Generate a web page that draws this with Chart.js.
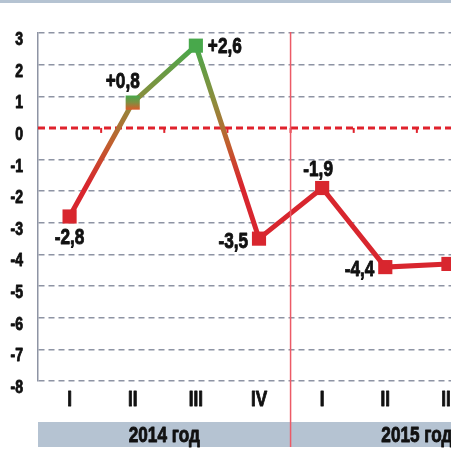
<!DOCTYPE html>
<html>
<head>
<meta charset="utf-8">
<script src="https://cdn.jsdelivr.net/npm/chart.js@4/dist/chart.umd.min.js"></script>
<style>
  html, body { margin: 0; padding: 0; background: #fff; }
  #wrap { width: 451px; height: 459px; overflow: hidden; position: relative; }
  canvas { display: block; }
</style>
</head>
<body>
<div id="wrap"><canvas id="grafico" width="490" height="459"></canvas></div>
<script>
// dados
const quarters = ['I', 'II', 'III', 'IV', 'I', 'II', 'III'];
const years = ['2014 год', '2015 год'];
const yearStart = [0, 4];
const values = [-2.8, 0.8, 2.6, -3.5, -1.9, -4.4, -4.3];
const valueLabels = ['-2,8', '+0,8', '+2,6', '-3,5', '-1,9', '-4,4', ''];
const labelPlace = ['below', 'aboveLeft', 'right', 'left', 'above', 'left', null];

const FONT = '"Liberation Sans", Arial, sans-serif';
const SQUEEZE = 0.78; // fonte condensada
const GREEN = '#48a84b';
const RED = '#d8262e';
const BAND = '#b5c3d2';
const GRID = '#8e94a4';
const INK = '#111';

function texto(ctx, str, x, y, align, size) {
  ctx.save();
  ctx.font = 'bold ' + size + 'px ' + FONT;
  ctx.textAlign = align;
  ctx.textBaseline = 'middle';
  ctx.fillStyle = INK;
  ctx.strokeStyle = INK;
  ctx.lineWidth = 0.9;
  ctx.lineJoin = 'round';
  ctx.translate(x, y);
  ctx.scale(SQUEEZE, 1);
  ctx.fillText(str, 0, 0);
  ctx.strokeText(str, 0, 0);
  ctx.restore();
}

function lineGradient(chart) {
  const y = chart.scales.y;
  if (!y || !chart.chartArea) return RED;
  const top = y.getPixelForValue(2.6), bot = y.getPixelForValue(-1.8);
  const g = chart.ctx.createLinearGradient(0, top, 0, bot);
  g.addColorStop(0, GREEN);
  g.addColorStop((y.getPixelForValue(0.8) - top) / (bot - top), '#8f8c3c');
  g.addColorStop(0.7, '#c0602e');
  g.addColorStop(1, RED);
  return g;
}

const extras = {
  id: 'extras',
  beforeDatasetsDraw(chart) {
    const { ctx, chartArea, scales: { x, y } } = chart;
    const y0 = y.getPixelForValue(0);
    const step = x.getPixelForValue(1) - x.getPixelForValue(0);
    ctx.save();
    // linha zero
    ctx.strokeStyle = '#e0222c';
    ctx.lineWidth = 3;
    ctx.setLineDash([7, 4]);
    ctx.beginPath();
    ctx.moveTo(chartArea.left, y0);
    ctx.lineTo(chartArea.right, y0);
    ctx.stroke();
    ctx.setLineDash([]);
    ctx.lineWidth = 2;
    for (let i = 0; i < quarters.length; i++) {
      const bx = x.getPixelForValue(i) + step / 2;
      ctx.beginPath();
      ctx.moveTo(bx, y0);
      ctx.lineTo(bx, y0 + 5);
      ctx.stroke();
    }
    ctx.restore();
  },
  afterDraw(chart) {
    const { ctx, chartArea, scales: { x, y } } = chart;
    const step = x.getPixelForValue(1) - x.getPixelForValue(0);
    ctx.save();
    // faixa de cima
    ctx.fillStyle = BAND;
    ctx.fillRect(0, 0, chart.width, 3);
    // ticks do eixo y
    y.ticks.forEach((t, i) => {
      texto(ctx, String(t.value), chartArea.left - 15, y.getPixelForTick(i) + 7, 'right', 18);
    });
    // ticks do eixo x
    quarters.forEach((q, i) => {
      texto(ctx, q, x.getPixelForValue(i), chartArea.bottom + 19, 'center', 22);
    });
    // faixa dos anos
    const bandTop = 422, bandH = 25;
    ctx.fillStyle = BAND;
    ctx.fillRect(chartArea.left, bandTop, chartArea.right - chartArea.left + 10, bandH);
    years.forEach((yr, k) => {
      const cx = x.getPixelForValue(yearStart[k]) - step / 2 + step * 2;
      texto(ctx, yr, cx, bandTop + bandH / 2 + 1, 'center', 22);
    });
    // separador vermelho
    const sx = (x.getPixelForValue(3) + x.getPixelForValue(4)) / 2;
    ctx.strokeStyle = '#ec5a66';
    ctx.lineWidth = 1.5;
    ctx.beginPath();
    ctx.moveTo(sx, chartArea.top - 1);
    ctx.lineTo(sx, bandTop + bandH);
    ctx.stroke();
    // rótulos
    values.forEach((v, i) => {
      const p = labelPlace[i];
      if (!p) return;
      const px = x.getPixelForValue(i), py = y.getPixelForValue(v);
      if (p === 'below') texto(ctx, valueLabels[i], px, py + 21, 'center', 22);
      if (p === 'aboveLeft') texto(ctx, valueLabels[i], px + 7, py - 21, 'right', 22);
      if (p === 'right') texto(ctx, valueLabels[i], px + 12, py + 1, 'left', 22);
      if (p === 'left') texto(ctx, valueLabels[i], px - 11, py + 3, 'right', 22);
      if (p === 'above') texto(ctx, valueLabels[i], px - 4, py - 18, 'center', 22);
    });
    ctx.restore();
  }
};

new Chart(document.getElementById('grafico'), {
  type: 'line',
  data: {
    labels: quarters,
    datasets: [{
      data: values,
      borderColor: ctx => lineGradient(ctx.chart),
      borderWidth: 5,
      fill: false,
      tension: 0,
      pointStyle: 'rect',
      pointRadius: 10,
      pointHoverRadius: 10,
      pointBorderWidth: 0,
      pointBackgroundColor: ctx => {
        const chart = ctx.chart;
        if (!chart.chartArea || ctx.dataIndex === undefined) return RED;
        const v = values[ctx.dataIndex];
        if (ctx.dataIndex === 1) {
          const py = chart.scales.y.getPixelForValue(v);
          const g = chart.ctx.createLinearGradient(0, py - 7, 0, py + 7);
          g.addColorStop(0, GREEN);
          g.addColorStop(0.5, '#7f8f40');
          g.addColorStop(1, '#dc5a2a');
          return g;
        }
        return v > 0 ? GREEN : RED;
      }
    }]
  },
  options: {
    responsive: false,
    animation: false,
    devicePixelRatio: 1,
    layout: { padding: { top: 33, right: 4, left: 0, bottom: 0 } },
    plugins: {
      legend: { display: false },
      tooltip: { enabled: false },
      title: { display: false }
    },
    events: [],
    scales: {
      x: {
        offset: true,
        grid: { display: false, drawTicks: false },
        border: { display: false },
        ticks: { display: false },
        afterFit: s => { s.height = 78; }
      },
      y: {
        min: -8,
        max: 3,
        grid: {
          drawTicks: false,
          color: c => c.tick && c.tick.value === 0 ? 'rgba(0,0,0,0)' : GRID,
          lineWidth: 1.5
        },
        border: { display: true, color: GRID, width: 1.5, dash: [6, 4] },
        ticks: { stepSize: 1, display: false },
        afterFit: s => { s.width = 38; }
      }
    }
  },
  plugins: [extras]
});
</script>
</body>
</html>
